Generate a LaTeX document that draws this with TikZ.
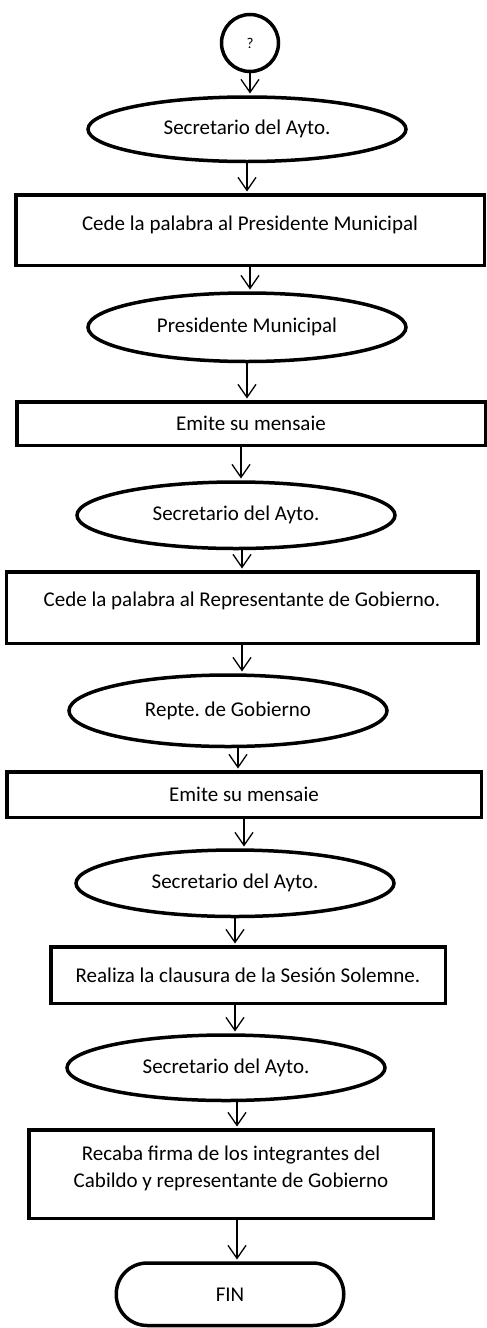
\documentclass[tikz,border=0pt]{standalone}
\usepackage{fontspec}
\setmainfont{Carlito}
\usetikzlibrary{arrows.meta,positioning,shapes.geometric}
\frenchspacing

\begin{document}
\begin{tikzpicture}[
  ovl/.style={draw,ellipse,line width=3.5pt,inner sep=0pt,minimum width=318pt,minimum height=66.5pt,font=\fontsize{21}{27}\selectfont},
  box/.style={draw,rectangle,line width=3.5pt,inner sep=0pt,align=center,font=\fontsize{21}{27}\selectfont},
  arr/.style={-{Straight Barb[length=13pt,width=18pt]},line width=1.3pt,shorten >=1.75pt}]
  \useasboundingbox (0,0) rectangle (487pt,-1328pt);
  \node[draw,circle,line width=3.5pt,minimum size=57pt,inner sep=0pt,font=\fontsize{15}{17}\selectfont] (start) at (250pt,-43pt) {?};
  \node[ovl,below=22pt of start,xshift=-3pt,minimum height=64.5pt] (sec1) {Secretario del Ayto.};
  \node[box,below=30pt of sec1,xshift=3pt,minimum width=468.5pt,minimum height=70.5pt,text depth=15pt] (ced1) {Cede la palabra al Presidente Municipal};
  \node[ovl,below=24pt of ced1,xshift=-3pt,minimum height=68.5pt] (pres) {Presidente Municipal};
  \node[box,below=37pt of pres,xshift=4pt,minimum width=468.5pt,minimum height=43.5pt] (emi1) {Emite su mensaie};
  \node[ovl,below=33pt of emi1,xshift=-15pt] (sec2) {Secretario del Ayto.};
  \node[box,below=20pt of sec2,xshift=6pt,minimum width=471.5pt,minimum height=71.5pt,text depth=18pt] (ced2) {Cede la palabra al Representante de Gobierno.};
  \node[ovl,below=28pt of ced2,xshift=-14pt,minimum height=71.5pt] (rep) {Repte. de Gobierno};
  \node[box,below=22pt of rep,xshift=16pt,minimum width=474.5pt,minimum height=45.5pt] (emi2) {Emite su mensaie};
  \node[ovl,below=29pt of emi2,xshift=-9pt] (sec3) {Secretario del Ayto.};
  \node[box,below=27pt of sec3,xshift=13pt,minimum width=394.5pt,minimum height=56.5pt] (clau) {Realiza la clausura de la Sesión Solemne.};
  \node[ovl,below=28pt of clau,xshift=-22pt,minimum height=65.5pt] (sec4) {Secretario del Ayto.};
  \node[box,below=26pt of sec4,xshift=5pt,minimum width=404.5pt,minimum height=88.5pt,text depth=16pt] (firma) {Recaba firma de los integrantes del\\Cabildo y representante de Gobierno};
  \node[box,rounded corners=31pt,below=41pt of firma,xshift=-1pt,minimum width=227.5pt,minimum height=62.5pt] (fin) {FIN};
  \draw[arr] (start.south) -- (start.south |- sec1.north);
  \draw[arr] (sec1.south) -- (sec1.south |- ced1.north);
  \draw[arr] (ced1.south) -- (ced1.south |- pres.north);
  \draw[arr] (pres.south) -- (pres.south |- emi1.north);
  \draw[arr] ([xshift=5pt]sec2.north |- emi1.south) -- ([xshift=5pt]sec2.north);
  \draw[arr] (ced2.north |- sec2.south) -- (ced2.north);
  \draw[arr] (ced2.south) -- (ced2.south |- rep.north);
  \draw[arr] ([xshift=-6pt]emi2.north |- rep.south) -- ([xshift=-6pt]emi2.north);
  \draw[arr] (emi2.south) -- (emi2.south |- sec3.north);
  \draw[arr] (sec3.south) -- (sec3.south |- clau.north);
  \draw[arr] ([xshift=9pt]sec4.north |- clau.south) -- ([xshift=9pt]sec4.north);
  \draw[arr] ([xshift=6pt]firma.north |- sec4.south) -- ([xshift=6pt]firma.north);
  \draw[arr] ([xshift=6pt]firma.south) -- ([xshift=6pt]firma.south |- fin.north);
\end{tikzpicture}
\end{document}
